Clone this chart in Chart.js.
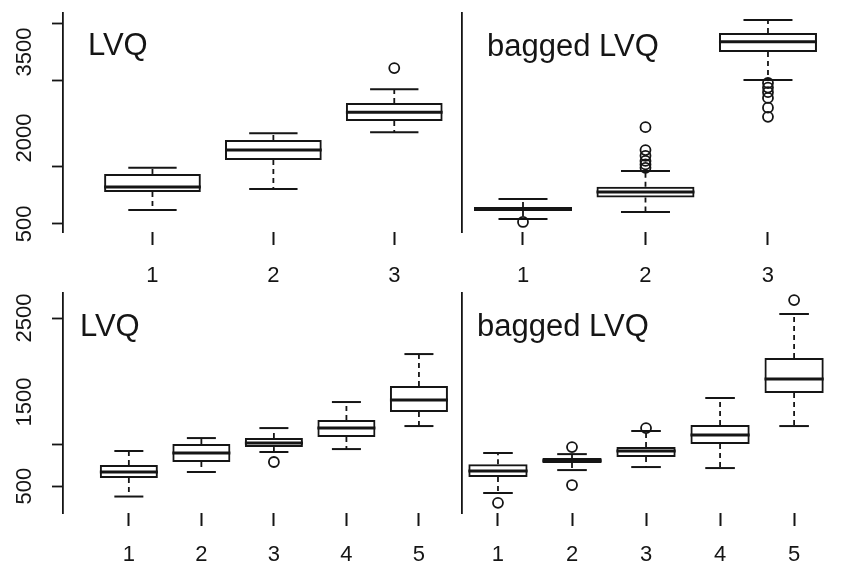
<!DOCTYPE html>
<html>
<head>
<meta charset="utf-8">
<script src="https://cdn.jsdelivr.net/npm/chart.js@4/dist/chart.umd.min.js"></script>
<style>
  body { margin: 0; background: #fff; }
  #wrap { position: relative; width: 852px; height: 570px; overflow: hidden; background: #fff; }
  canvas { position: absolute; }
</style>
</head>
<body>
<div id="wrap">
  <canvas id="lvqTop" width="462" height="285" style="left:0;top:0"></canvas>
  <canvas id="bagTop" width="400" height="285" style="left:452px;top:0"></canvas>
  <canvas id="lvqBottom" width="462" height="285" style="left:0;top:285px"></canvas>
  <canvas id="bagBottom" width="400" height="285" style="left:452px;top:285px"></canvas>
</div>
<script>
// group positions
const groupsTop = [1, 2, 3];
const groupsBottom = [1, 2, 3, 4, 5];

// box stats per group: [lower whisker, Q1, median, Q3, upper whisker]
const lvqTopStats = [
  [744, 1058, 1146, 1373, 1480],
  [1111, 1617, 1791, 1966, 2085],
  [2100, 2298, 2450, 2612, 2850]
];
const lvqTopOutliers = [[], [], [3220]];

const bagTopStats = [
  [587, 727, 762, 797, 936],
  [710, 960, 1058, 1150, 1425],
  [3013, 3502, 3680, 3833, 4060]
];
const bagTopOutliers = [
  [535],
  [1480, 1540, 1600, 1690, 1790, 2190],
  [2960, 2880, 2800, 2700, 2530, 2370]
];

const lvqBottomStats = [
  [375, 595, 667, 750, 917],
  [667, 786, 893, 1000, 1071],
  [905, 964, 1012, 1071, 1190],
  [940, 1083, 1190, 1286, 1500],
  [1214, 1381, 1524, 1690, 2071]
];
const lvqBottomOutliers = [[], [], [786], [], []];

const bagBottomStats = [
  [417, 607, 680, 760, 893],
  [690, 773, 800, 833, 880],
  [726, 845, 917, 964, 1155],
  [714, 1000, 1107, 1226, 1548],
  [1214, 1607, 1774, 2024, 2548]
];
const bagBottomOutliers = [[300], [964, 512], [1190], [], [2714]];

// y axis tick marks and labelled values
const topTickMarks = [500, 1500, 3000, 4000];
const topTickLabels = [500, 2000, 3500];
const bottomTickMarks = [500, 1000, 2500];
const bottomTickLabels = [500, 1500, 2500];

const ink = '#151515';
const family = '"Liberation Sans", Arial, Helvetica, sans-serif';

// whiskers, caps, medians and the panel caption
const boxWhiskers = {
  id: 'boxWhiskers',
  afterDatasetsDraw(chart, args, opts) {
    const { ctx, chartArea } = chart;
    const xs = chart.scales.x, ys = chart.scales.y;
    const px = v => xs.getPixelForValue(v);
    const py = v => ys.getPixelForValue(v);
    const seg = (x1, y1, x2, y2) => { ctx.beginPath(); ctx.moveTo(x1, y1); ctx.lineTo(x2, y2); ctx.stroke(); };
    ctx.save();
    ctx.strokeStyle = ink;
    opts.stats.forEach((s, i) => {
      const g = opts.groups[i];
      const [lo, q1, med, q3, hi] = s;
      const cx = px(g);
      ctx.lineWidth = 1.8;
      ctx.setLineDash([5, 4]);
      seg(cx, py(q3), cx, py(hi));
      seg(cx, py(q1), cx, py(lo));
      ctx.setLineDash([]);
      ctx.lineWidth = 2;
      seg(px(g - 0.2), py(hi), px(g + 0.2), py(hi));
      seg(px(g - 0.2), py(lo), px(g + 0.2), py(lo));
      ctx.lineWidth = 3;
      seg(px(g - 0.4), py(med), px(g + 0.4), py(med));
    });
    ctx.fillStyle = ink;
    ctx.font = '31px ' + family;
    ctx.textBaseline = 'alphabetic';
    ctx.fillText(opts.title, chartArea.left + opts.dx, chartArea.top + opts.dy);
    ctx.restore();
  }
};

function makePanel(id, p) {
  const boxes = p.groups.map((g, i) => ({ x: g, y: [p.stats[i][1], p.stats[i][3]] }));
  const points = [];
  p.outliers.forEach((list, i) => list.forEach(v => points.push({ x: p.groups[i], y: v })));

  const yAxis = p.tickMarks ? {
    type: 'linear', min: p.yMin, max: p.yMax,
    afterBuildTicks: s => {
      const vals = [...new Set([...p.tickMarks, ...p.tickLabels])].sort((a, b) => a - b);
      s.ticks = vals.map(v => ({ value: v }));
    },
    afterFit: s => { s.width = p.yWidth; s.paddingTop = 0; s.paddingBottom = 0; },
    border: { display: true, color: ink, width: 1.8 },
    grid: {
      drawOnChartArea: false, drawTicks: true, tickLength: 11, tickWidth: 1.8,
      tickColor: c => p.tickMarks.includes(c.tick.value) ? ink : 'rgba(0,0,0,0)'
    },
    ticks: {
      autoSkip: false, minRotation: 90, maxRotation: 90, crossAlign: 'center', padding: 2.5,
      color: ink, font: { family, size: 22 },
      callback: v => p.tickLabels.includes(v) ? String(v) : ''
    }
  } : {
    type: 'linear', min: p.yMin, max: p.yMax,
    afterFit: s => { s.width = p.yWidth; s.paddingTop = 0; s.paddingBottom = 0; },
    border: { display: true, color: ink, width: 1.8 },
    grid: { display: false },
    ticks: { display: false }
  };

  return new Chart(document.getElementById(id), {
    type: 'bar',
    data: {
      datasets: [
        {
          type: 'bar', data: boxes,
          backgroundColor: 'rgba(0,0,0,0)', borderColor: ink, borderWidth: 2,
          borderSkipped: false, categoryPercentage: 1, barPercentage: 0.8, grouped: false
        },
        {
          type: 'scatter', data: points,
          pointStyle: 'circle', pointRadius: 5, pointBorderWidth: 1.8,
          pointBackgroundColor: 'rgba(0,0,0,0)', pointBorderColor: ink, showLine: false
        }
      ]
    },
    options: {
      responsive: false,
      animation: false,
      layout: { padding: { left: 0, top: p.padTop, right: p.padRight, bottom: 0 } },
      plugins: {
        legend: { display: false },
        tooltip: { enabled: false },
        boxWhiskers: { groups: p.groups, stats: p.stats, title: p.title, dx: p.dx, dy: p.dy }
      },
      scales: {
        x: {
          type: 'linear', min: p.xMin, max: p.xMax, offset: false,
          afterBuildTicks: s => { s.ticks = p.groups.map(v => ({ value: v })); },
          afterFit: s => { s.height = p.xHeight; s.paddingLeft = 0; s.paddingRight = 0; },
          border: { display: false },
          grid: { offset: false, drawOnChartArea: false, tickLength: 13, tickWidth: 2, tickColor: ink },
          ticks: { autoSkip: false, maxRotation: 0, padding: p.xPad, color: ink, font: { family, size: 22 } }
        },
        y: yAxis
      }
    },
    plugins: [boxWhiskers]
  });
}

makePanel('lvqTop', {
  title: 'LVQ', dx: 25, dy: 42,
  groups: groupsTop, stats: lvqTopStats, outliers: lvqTopOutliers,
  tickMarks: topTickMarks, tickLabels: topTickLabels,
  yMin: 360, yMax: 4182, xMin: 0.26, xMax: 3.504,
  yWidth: 63, padTop: 13, padRight: 0, xHeight: 53, xPad: 18
});
makePanel('bagTop', {
  title: 'bagged LVQ', dx: 25, dy: 43,
  groups: groupsTop, stats: bagTopStats, outliers: bagTopOutliers,
  yMin: 360, yMax: 4182, xMin: 0.502, xMax: 3.588,
  yWidth: 10, padTop: 13, padRight: 12, xHeight: 53, xPad: 18
});
makePanel('lvqBottom', {
  title: 'LVQ', dx: 17, dy: 43,
  groups: groupsBottom, stats: lvqBottomStats, outliers: lvqBottomOutliers,
  tickMarks: bottomTickMarks, tickLabels: bottomTickLabels,
  yMin: 179, yMax: 2798, xMin: 0.092, xMax: 5.5,
  yWidth: 63, padTop: 8, padRight: 0, xHeight: 57, xPad: 16
});
makePanel('bagBottom', {
  title: 'bagged LVQ', dx: 15, dy: 43,
  groups: groupsBottom, stats: bagBottomStats, outliers: bagBottomOutliers,
  yMin: 179, yMax: 2798, xMin: 0.514, xMax: 5.62,
  yWidth: 10, padTop: 8, padRight: 12, xHeight: 57, xPad: 16
});
</script>
</body>
</html>
